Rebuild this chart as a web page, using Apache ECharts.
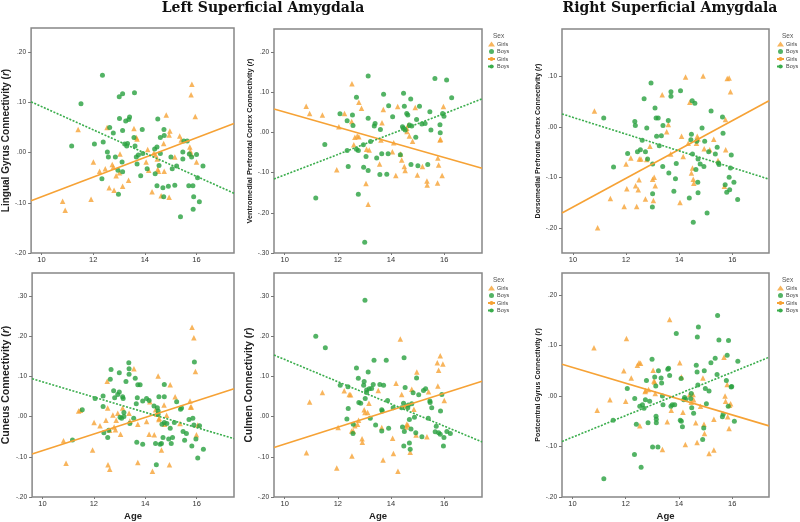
<!DOCTYPE html>
<html><head><meta charset="utf-8">
<script src="https://cdn.jsdelivr.net/npm/echarts@6/dist/echarts.min.js"></script>
<style>html,body{margin:0;padding:0;background:#fff}#c{width:800px;height:522px}</style>
</head><body><div id="c"></div>
<script>
// ---------- DATA ----------
const titles = ['Left Superficial Amygdala', 'Right Superficial Amygdala'];
const xTicks = [10, 12, 14, 16];
const xName = 'Age';
const legendTitle = 'Sex';
const groupNames = ['Girls', 'Boys'];

const yNames = [
  'Lingual Gyrus Connectivity ({it|r})',
  'Ventromedial Prefrontal Cortex Connectivity ({it|r})',
  'Dorsomedial Prefrontal Cortex Connectivity ({it|r})',
  'Cuneus Connectivity ({it|r})',
  'Culmen Connectivity ({it|r})',
  'Postcentral Gyrus Connectivity ({it|r})'
];
const yTicks = [
  [-0.2, -0.1, 0, 0.1, 0.2],
  [-0.3, -0.2, -0.1, 0, 0.1, 0.2],
  [-0.2, -0.1, 0, 0.1],
  [-0.2, -0.1, 0, 0.1, 0.2, 0.3],
  [-0.2, -0.1, 0, 0.1, 0.2, 0.3],
  [-0.2, -0.1, 0, 0.1, 0.2]
];
const yRanges = [[-0.2, 0.248], [-0.3, 0.257], [-0.249, 0.194], [-0.2, 0.357], [-0.2, 0.357], [-0.2, 0.244]];
const xRanges = [[9.6, 17.45], [9.6, 17.42], [9.59, 17.38], [9.6, 17.45], [9.6, 17.42], [9.61, 17.38]];

// Lingual gyrus (left)
const lingualGirls = [[10.82,-0.097],[10.92,-0.115],[11.42,0.046],[11.92,-0.093],[12.01,-0.019],[12.25,-0.037],[12.47,-0.032],[12.54,0.050],[12.62,-0.070],[12.81,-0.075],[12.78,-0.029],[12.74,-0.024],[12.89,-0.046],[13.04,-0.003],[13.02,-0.040],[13.14,-0.067],[13.37,-0.055],[13.58,0.048],[13.67,0.030],[13.70,0.027],[14.05,-0.019],[14.11,0.006],[14.15,-0.035],[14.28,-0.078],[14.35,-0.001],[14.42,-0.005],[14.48,-0.013],[14.50,-0.033],[14.53,-0.037],[14.63,-0.086],[14.73,0.018],[14.75,-0.037],[14.83,0.075],[14.94,0.035],[14.97,0.043],[14.94,-0.089],[15.16,-0.009],[15.35,0.033],[15.41,0.025],[15.82,0.136],[15.79,0.115],[15.95,0.072],[15.74,0.011],[15.76,0.003],[15.79,-0.003],[16.00,-0.019]];
const lingualBoys = [[12.36,0.154],[11.53,0.097],[13.01,0.111],[13.14,0.117],[13.60,0.119],[13.02,0.068],[13.41,0.071],[13.38,0.066],[13.26,0.063],[14.50,0.067],[12.64,0.050],[12.78,0.039],[13.14,0.044],[13.58,0.030],[13.90,0.046],[14.74,0.046],[14.60,0.030],[14.75,0.034],[13.22,0.017],[13.33,0.018],[13.30,0.013],[13.62,0.013],[12.05,0.017],[12.39,0.021],[11.17,0.013],[12.55,0.001],[12.59,-0.009],[12.86,-0.009],[13.12,-0.019],[13.67,-0.009],[13.75,-0.005],[13.70,-0.023],[13.92,-0.002],[14.38,0.007],[14.47,0.011],[14.60,-0.002],[14.55,-0.026],[13.84,-0.046],[14.09,-0.032],[14.40,-0.042],[14.47,-0.066],[12.96,-0.035],[13.14,-0.038],[12.34,-0.052],[12.98,-0.083],[14.70,-0.070],[14.73,-0.088],[14.91,-0.067],[15.01,-0.009],[15.06,-0.032],[15.23,-0.027],[15.16,-0.065],[15.38,-0.128],[15.47,0.001],[15.47,-0.013],[15.51,0.023],[15.64,0.023],[15.72,-0.003],[15.81,-0.009],[16.00,-0.004],[15.70,-0.066],[15.86,-0.066],[15.89,-0.088],[15.87,-0.113],[16.04,-0.050],[16.11,-0.098],[16.25,-0.027]];
const lingualGirlsFit = [[9.6,-0.096],[17.45,0.058]];
const lingualBoysFit = [[9.6,0.101],[17.45,-0.081]];

// Ventromedial prefrontal cortex (left)
const vmpfcGirls = [[10.81,0.065],[10.94,0.047],[11.42,0.043],[12.04,0.014],[11.96,-0.093],[12.25,0.047],[12.52,0.027],[12.53,0.121],[12.79,0.075],[12.89,0.060],[12.64,-0.012],[12.73,-0.009],[12.79,-0.011],[12.60,-0.031],[13.08,-0.042],[13.18,-0.044],[13.06,-0.127],[13.14,-0.179],[13.57,-0.079],[13.71,0.057],[13.66,0.024],[13.62,-0.019],[14.10,-0.026],[14.05,-0.048],[14.18,-0.107],[14.25,0.064],[14.36,-0.054],[14.40,-0.069],[14.50,-0.085],[14.53,-0.095],[14.59,0.010],[14.65,0.018],[14.69,-0.009],[14.60,0.002],[14.81,-0.022],[14.91,0.062],[14.99,-0.106],[15.18,-0.085],[15.35,-0.121],[15.36,-0.131],[15.75,-0.126],[15.76,-0.064],[15.79,-0.081],[15.84,-0.019],[15.86,-0.017],[15.92,-0.107],[15.97,0.064]];
const vmpfcBoys = [[13.14,0.140],[12.70,0.087],[13.72,0.095],[14.47,0.097],[14.74,0.083],[15.65,0.134],[16.09,0.130],[16.28,0.086],[13.91,0.066],[14.50,0.065],[15.07,0.065],[12.08,0.046],[12.55,0.043],[12.35,0.029],[12.57,0.017],[13.14,0.035],[13.40,0.022],[13.37,0.016],[13.60,0.007],[14.06,0.039],[14.59,0.047],[14.63,0.043],[14.96,0.032],[15.46,0.051],[15.94,0.047],[15.99,0.040],[14.43,0.014],[14.47,0.010],[14.53,0.006],[14.69,0.018],[14.78,0.016],[15.16,0.021],[15.28,0.022],[15.50,0.006],[15.84,0.019],[14.93,-0.012],[15.85,-0.001],[11.51,-0.030],[12.35,-0.045],[12.70,-0.042],[12.77,-0.045],[13.23,-0.023],[12.96,-0.031],[13.46,-0.064],[13.65,-0.053],[13.89,-0.053],[14.35,-0.056],[13.06,-0.060],[13.14,-0.095],[12.97,-0.087],[12.39,-0.085],[13.58,-0.105],[13.84,-0.104],[14.75,-0.080],[15.01,-0.083],[15.38,-0.080],[12.77,-0.154],[11.17,-0.163],[13.01,-0.273]];
const vmpfcGirlsFit = [[9.6,0.058],[17.42,-0.089]];
const vmpfcBoysFit = [[9.6,-0.116],[17.42,0.083]];

// Dorsomedial prefrontal cortex (right)
const dmpfcGirls = [[10.81,0.032],[10.93,-0.199],[11.41,-0.141],[11.93,-0.157],[12.00,-0.073],[12.03,-0.122],[12.18,-0.061],[12.36,-0.116],[12.40,-0.157],[12.46,-0.124],[12.49,-0.104],[12.50,-0.063],[12.56,-0.063],[12.73,-0.142],[12.78,-0.064],[12.90,-0.038],[13.00,-0.103],[13.03,-0.145],[13.06,-0.099],[13.10,-0.116],[13.36,0.064],[13.59,0.005],[13.53,-0.009],[13.68,-0.053],[14.03,-0.149],[14.09,-0.018],[14.15,-0.058],[14.24,0.099],[14.34,-0.032],[14.40,0.049],[14.46,-0.091],[14.50,-0.081],[14.53,-0.103],[14.55,-0.111],[14.65,-0.032],[14.68,-0.018],[14.71,-0.023],[14.90,0.101],[14.94,-0.043],[15.15,-0.045],[15.30,-0.024],[15.46,-0.066],[15.70,-0.117],[15.74,0.015],[15.75,-0.045],[15.81,0.096],[15.88,0.097],[15.93,0.070]];
const dmpfcBoys = [[11.16,0.018],[11.53,-0.079],[12.06,-0.052],[12.33,0.011],[12.35,0.003],[12.43,-0.049],[12.54,-0.045],[12.61,-0.026],[12.68,0.056],[12.73,-0.049],[12.78,-0.002],[12.81,-0.063],[12.94,0.087],[13.00,-0.073],[13.00,-0.132],[12.99,-0.158],[13.09,0.038],[13.13,0.018],[13.15,-0.018],[13.21,0.018],[13.25,-0.037],[13.33,-0.017],[13.38,-0.078],[13.39,0.003],[13.59,0.013],[13.61,-0.091],[13.69,0.070],[13.69,0.061],[13.80,-0.127],[13.86,-0.102],[13.89,-0.072],[14.05,0.072],[14.38,-0.140],[14.46,-0.014],[14.44,-0.025],[14.50,-0.053],[14.49,0.052],[14.59,0.047],[14.53,-0.188],[14.63,-0.084],[14.66,-0.028],[14.71,-0.063],[14.70,-0.109],[14.71,-0.130],[14.79,-0.073],[14.86,-0.002],[14.93,-0.078],[14.96,-0.028],[15.05,-0.170],[15.11,-0.049],[15.20,0.032],[15.36,-0.053],[15.43,-0.040],[15.48,-0.071],[15.50,-0.074],[15.63,0.020],[15.65,-0.012],[15.73,-0.114],[15.79,-0.129],[15.88,-0.099],[15.90,-0.124],[15.93,-0.081],[15.96,-0.055],[16.06,-0.109],[16.20,-0.143]];
const dmpfcGirlsFit = [[9.59,-0.170],[17.38,0.052]];
const dmpfcBoysFit = [[9.59,0.026],[17.38,-0.103]];

// Cuneus (left)
const cuneusGirls = [[10.82,-0.060],[10.92,-0.116],[11.41,0.014],[11.48,0.016],[11.95,-0.083],[12.01,-0.015],[12.24,-0.023],[12.47,-0.009],[12.52,0.088],[12.54,0.021],[12.55,-0.120],[12.62,-0.131],[12.62,-0.034],[12.74,0.004],[12.79,-0.026],[12.84,-0.033],[12.87,-0.009],[12.93,0.008],[13.04,-0.044],[13.12,0.021],[13.37,0.008],[13.40,-0.011],[13.56,0.119],[13.71,-0.019],[13.71,-0.114],[14.05,-0.012],[14.15,-0.044],[14.18,0.037],[14.28,-0.136],[14.35,-0.045],[14.40,0.017],[14.45,0.006],[14.50,0.101],[14.53,-0.007],[14.54,-0.004],[14.63,-0.083],[14.73,0.029],[14.75,-0.019],[14.83,0.003],[14.94,-0.120],[14.97,0.079],[15.16,0.049],[15.35,-0.017],[15.74,0.039],[15.76,0.024],[15.79,0.024],[15.82,0.222],[15.89,0.196],[15.95,0.112],[15.99,-0.045],[16.04,-0.021]];
const cuneusBoys = [[11.17,-0.058],[11.55,0.017],[12.05,0.045],[12.36,0.051],[12.36,0.025],[12.39,-0.040],[12.54,-0.052],[12.58,-0.034],[12.64,0.093],[12.67,0.117],[12.77,0.064],[12.81,0.047],[12.93,0.055],[12.99,0.109],[12.99,0.061],[13.02,-0.002],[13.08,-0.004],[13.12,0.049],[13.14,0.045],[13.17,0.000],[13.17,0.010],[13.25,0.087],[13.36,0.134],[13.37,0.119],[13.37,0.105],[13.40,-0.017],[13.55,-0.004],[13.61,0.095],[13.65,0.032],[13.67,-0.064],[13.69,0.047],[13.71,0.079],[13.80,0.079],[13.90,-0.069],[13.90,0.039],[14.05,0.045],[14.15,0.040],[14.34,0.026],[14.43,-0.120],[14.40,-0.067],[14.47,0.022],[14.50,0.014],[14.50,0.006],[14.53,0.049],[14.58,-0.069],[14.63,-0.067],[14.65,-0.019],[14.69,-0.052],[14.74,0.080],[14.74,0.049],[14.74,-0.015],[14.84,-0.017],[14.91,-0.056],[14.97,-0.029],[15.01,-0.067],[15.06,-0.052],[15.13,-0.015],[15.22,0.037],[15.37,0.018],[15.41,0.021],[15.47,-0.037],[15.53,-0.059],[15.60,-0.042],[15.70,-0.007],[15.81,-0.073],[15.85,-0.004],[15.89,-0.021],[15.91,0.136],[15.97,-0.056],[16.04,-0.103],[16.11,-0.023],[16.26,-0.081]];
const cuneusGirlsFit = [[9.6,-0.093],[17.45,0.069]];
const cuneusBoysFit = [[9.6,0.094],[17.45,-0.055]];

// Culmen (left)
const culmenGirls = [[10.82,-0.090],[10.94,0.036],[11.42,0.060],[11.96,-0.128],[12.01,-0.027],[12.24,0.064],[12.43,0.055],[12.48,0.054],[12.52,-0.036],[12.53,-0.098],[12.58,-0.036],[12.64,-0.023],[12.74,-0.019],[12.78,-0.009],[12.91,-0.055],[12.92,-0.064],[12.99,0.017],[13.02,0.010],[13.12,0.010],[13.17,0.033],[13.52,0.065],[13.65,-0.027],[13.70,-0.108],[14.06,-0.054],[14.09,-0.092],[14.19,0.083],[14.26,-0.136],[14.35,0.193],[14.40,0.055],[14.53,0.026],[14.57,-0.026],[14.59,-0.019],[14.63,-0.021],[14.72,-0.089],[14.78,0.068],[14.86,0.018],[14.94,-0.046],[14.97,0.111],[15.35,-0.050],[15.41,0.062],[15.74,0.134],[15.79,0.115],[15.85,0.151],[15.95,0.131],[16.00,0.040],[15.76,0.076]];
const culmenBoys = [[11.17,0.200],[11.53,0.171],[13.02,0.289],[12.09,0.078],[12.38,0.074],[12.39,0.020],[12.34,-0.006],[12.57,-0.042],[12.58,-0.019],[12.70,0.121],[12.77,0.095],[12.79,0.035],[12.86,0.033],[12.97,0.078],[12.99,0.087],[13.03,0.045],[13.08,0.066],[13.08,0.060],[13.14,0.111],[13.18,0.069],[13.22,-0.004],[13.27,0.070],[13.33,0.080],[13.36,0.140],[13.42,-0.021],[13.58,0.080],[13.65,0.017],[13.67,0.014],[13.72,0.078],[13.65,-0.036],[13.82,0.140],[13.87,0.040],[13.91,-0.029],[14.08,0.022],[14.40,0.022],[14.43,-0.026],[14.47,0.033],[14.48,-0.073],[14.49,0.146],[14.50,-0.037],[14.53,0.072],[14.63,0.022],[14.65,0.029],[14.69,-0.066],[14.72,-0.081],[14.69,-0.007],[14.75,-0.031],[14.78,0.032],[14.83,0.059],[14.88,-0.002],[14.93,-0.040],[14.96,0.096],[15.04,0.054],[15.16,-0.050],[15.22,0.065],[15.30,0.069],[15.40,-0.004],[15.46,0.039],[15.47,0.035],[15.53,0.022],[15.66,-0.038],[15.70,-0.024],[15.79,-0.040],[15.85,-0.044],[15.86,0.014],[15.91,0.055],[15.97,-0.073],[15.99,-0.052],[16.10,-0.037],[16.23,-0.042]];
const culmenGirlsFit = [[9.6,-0.077],[17.42,0.088]];
const culmenBoysFit = [[9.6,0.153],[17.42,-0.063]];

// Postcentral gyrus (right)
const postcentralGirls = [[10.81,0.096],[10.93,-0.028],[11.41,-0.007],[11.93,0.050],[12.00,-0.010],[12.03,0.114],[12.21,0.036],[12.44,0.061],[12.50,0.066],[12.56,0.065],[12.53,-0.059],[12.73,0.009],[12.75,0.011],[12.86,0.013],[13.03,0.051],[13.06,0.030],[13.09,0.028],[13.11,0.005],[13.38,-0.106],[13.56,-0.051],[13.65,0.152],[13.71,-0.028],[14.03,0.066],[14.09,0.038],[14.15,-0.032],[14.24,-0.096],[14.40,0.003],[14.46,-0.012],[14.53,0.003],[14.55,-0.007],[14.63,-0.053],[14.68,-0.092],[14.81,-0.020],[14.90,0.036],[14.94,-0.056],[14.96,-0.074],[15.13,-0.114],[15.31,-0.046],[15.31,-0.107],[15.69,0.077],[15.73,0.000],[15.75,-0.010],[15.81,0.023],[15.83,-0.041],[15.88,-0.064],[15.90,-0.018],[15.94,-0.015]];
const postcentralBoys = [[11.18,-0.164],[11.53,-0.048],[12.06,0.015],[12.33,-0.116],[12.34,-0.005],[12.40,-0.056],[12.53,-0.020],[12.58,-0.141],[12.63,-0.017],[12.69,-0.024],[12.74,-0.007],[12.78,0.031],[12.84,-0.053],[12.90,-0.010],[12.99,0.073],[13.01,-0.101],[13.09,0.038],[13.13,0.020],[13.14,-0.040],[13.15,-0.046],[13.15,-0.053],[13.21,-0.101],[13.23,0.050],[13.33,0.036],[13.35,0.026],[13.38,0.000],[13.40,-0.017],[13.58,0.053],[13.61,0.055],[13.65,0.041],[13.70,-0.020],[13.75,-0.017],[13.90,0.124],[13.84,-0.017],[14.05,-0.048],[14.08,0.035],[14.09,-0.050],[14.13,-0.061],[14.18,-0.007],[14.21,-0.003],[14.25,-0.006],[14.46,0.005],[14.44,-0.005],[14.48,-0.023],[14.55,-0.034],[14.65,0.061],[14.68,0.048],[14.69,0.117],[14.73,0.137],[14.71,0.022],[14.89,-0.086],[14.93,-0.063],[14.95,0.050],[14.99,0.015],[15.03,-0.015],[15.13,0.010],[15.20,0.066],[15.36,0.075],[15.43,0.043],[15.45,0.160],[15.50,0.111],[15.63,-0.041],[15.66,-0.036],[15.78,0.031],[15.81,0.081],[15.86,0.110],[15.85,-0.020],[15.96,0.018],[15.98,0.019],[16.08,-0.050],[16.21,0.069]];
const postcentralGirlsFit = [[9.61,0.063],[17.38,-0.059]];
const postcentralBoysFit = [[9.61,-0.090],[17.38,0.077]];

const girlsData = [lingualGirls, vmpfcGirls, dmpfcGirls, cuneusGirls, culmenGirls, postcentralGirls];
const boysData = [lingualBoys, vmpfcBoys, dmpfcBoys, cuneusBoys, culmenBoys, postcentralBoys];
const girlsFits = [lingualGirlsFit, vmpfcGirlsFit, dmpfcGirlsFit, cuneusGirlsFit, culmenGirlsFit, postcentralGirlsFit];
const boysFits = [lingualBoysFit, vmpfcBoysFit, dmpfcBoysFit, cuneusBoysFit, culmenBoysFit, postcentralBoysFit];

// ---------- LAYOUT / STYLE ----------
const ORANGE = '#f6a235';
const GREEN = '#28a03f';
const GREEN_LINE = '#3aad4c';
const FONT = 'Liberation Sans, Arial, sans-serif';
const layout = [
  {left: 26, top: 28, width: 208, height: 225, nameSize: 10, nameGap: 12, legend: null, showAge: false},
  {left: 274, top: 29, width: 208, height: 224, nameSize: 7.4, nameGap: 18, legend: [487, 41], showAge: false},
  {left: 562, top: 29, width: 207, height: 224, nameSize: 7, nameGap: 20, legend: [776, 41], showAge: false},
  {left: 26, top: 273, width: 208, height: 225, nameSize: 10.5, nameGap: 13, legend: null, showAge: true},
  {left: 274, top: 273, width: 208, height: 225, nameSize: 10.2, nameGap: 16.5, legend: [487, 285], showAge: true},
  {left: 562, top: 273, width: 207, height: 225, nameSize: 7, nameGap: 19, legend: [776, 285], showAge: true}
];

const fmtY = v => (v < -1e-9 ? '-' : '') + Math.abs(v).toFixed(2).replace(/^0/, '');

const grid = [], xAxis = [], yAxis = [], series = [], legend = [], graphic = [];
layout.forEach((L, i) => {
  grid.push({left: L.left, top: L.top, width: L.width, height: L.height, show: true,
    borderColor: '#878787', borderWidth: 1.5, backgroundColor: 'transparent', containLabel: false});
  xAxis.push({type: 'value', gridIndex: i, min: xRanges[i][0], max: xRanges[i][1], position: 'bottom',
    axisLine: {show: false, onZero: false}, splitLine: {show: false},
    axisTick: {show: true, length: 2, customValues: xTicks, lineStyle: {color: '#777'}},
    axisLabel: {customValues: xTicks, fontSize: 7.5, color: '#333', fontFamily: FONT, margin: 3},
    name: L.showAge ? xName : '', nameLocation: 'middle', nameGap: 14,
    nameTextStyle: {fontSize: 9.5, fontWeight: 'bold', color: '#222', fontFamily: FONT}});
  yAxis.push({type: 'value', gridIndex: i, min: yRanges[i][0], max: yRanges[i][1], position: 'left',
    axisLine: {show: false, onZero: false}, splitLine: {show: false},
    axisTick: {show: true, length: 3, customValues: yTicks[i], lineStyle: {color: '#777'}},
    axisLabel: {customValues: yTicks[i], formatter: fmtY, fontSize: 6.5, color: '#333', fontFamily: FONT, margin: 5},
    name: yNames[i], nameLocation: 'middle', nameRotate: 90, nameGap: L.nameGap,
    nameTextStyle: {fontSize: L.nameSize, fontWeight: 'bold', color: '#222', fontFamily: FONT,
      rich: {it: {fontSize: L.nameSize, fontWeight: 'bold', fontStyle: 'italic', color: '#222', fontFamily: FONT}}}});
  series.push({name: groupNames[0], type: 'scatter', xAxisIndex: i, yAxisIndex: i, data: girlsData[i],
    symbol: 'triangle', symbolSize: 5.5, itemStyle: {color: ORANGE}, z: 3});
  series.push({name: groupNames[1], type: 'scatter', xAxisIndex: i, yAxisIndex: i, data: boysData[i],
    symbol: 'circle', symbolSize: 5, itemStyle: {color: GREEN}, z: 3});
  series.push({name: groupNames[0] + ' fit', type: 'line', xAxisIndex: i, yAxisIndex: i, data: girlsFits[i],
    symbol: 'none', lineStyle: {color: ORANGE, width: 1.6, type: 'solid'}, itemStyle: {color: ORANGE}, z: 4, silent: true});
  series.push({name: groupNames[1] + ' fit', type: 'line', xAxisIndex: i, yAxisIndex: i, data: boysFits[i],
    symbol: 'none', lineStyle: {color: GREEN_LINE, width: 1.6, type: [2, 1.5]}, itemStyle: {color: GREEN_LINE}, z: 4, silent: true});
  if (L.legend) {
    legend.push({left: L.legend[0], top: L.legend[1], orient: 'vertical', padding: 0, itemGap: 1.5,
      itemWidth: 7, itemHeight: 5, selectedMode: false,
      data: [groupNames[0], groupNames[1], groupNames[0] + ' fit', groupNames[1] + ' fit'],
      formatter: n => n.replace(' fit', ''),
      textStyle: {fontSize: 5.5, color: '#444', fontFamily: FONT, padding: [0, 0, 0, -3], lineHeight: 6}});
    graphic.push({type: 'text', x: L.legend[0] + 6, y: L.legend[1] - 8,
      style: {text: legendTitle, fontSize: 6.5, fill: '#555', fontFamily: FONT}});
  }
});
graphic.push({type: 'text', x: 263, y: 1, style: {text: titles[0], font: 'bold 14px "DejaVu Serif", serif', fill: '#111', textAlign: 'center', textVerticalAlign: 'top'}});
graphic.push({type: 'text', x: 670, y: 1, style: {text: titles[1], font: 'bold 14px "DejaVu Serif", serif', fill: '#111', textAlign: 'center', textVerticalAlign: 'top'}});

const chart = echarts.init(document.getElementById('c'), null, {renderer: 'canvas'});
chart.setOption({animation: false, backgroundColor: '#fff', grid, xAxis, yAxis, series, legend, graphic});
</script></body></html>
